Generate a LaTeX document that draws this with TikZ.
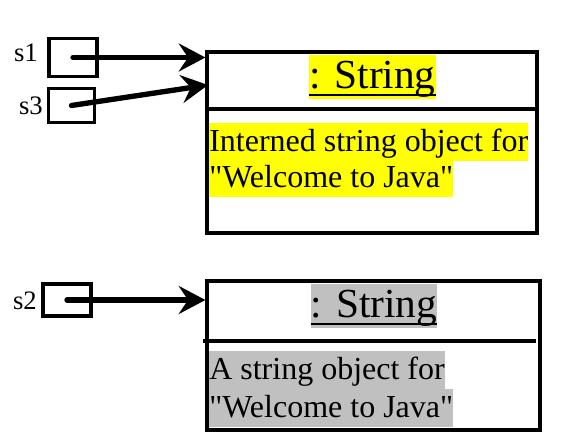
\documentclass[tikz,border=0pt]{standalone}
\usepackage{fontspec}
\setmainfont{Liberation Serif}
\usetikzlibrary{arrows.meta,calc}
\definecolor{hlyellow}{RGB}{255,255,0}
\definecolor{hlgray}{RGB}{192,192,192}
\tikzset{
  ptrbox/.style={draw, line width=2.4pt, inner sep=0pt},
  objbox/.style={draw, line width=2.4pt, inner sep=0pt},
  objline/.style={line width=2.4pt},
  ref/.style={line width=4pt, line cap=round, -{Stealth[length=20pt,width=21pt,inset=7pt]}},
  varlabel/.style={font=\fontsize{20}{22}\selectfont, inner sep=0pt, anchor=base east},
  ttl/.style={font=\fontsize{31}{36}\selectfont, inner sep=0pt, text height=25.5pt, text depth=7.5pt, anchor=base},
  bodyline/.style={font=\fontsize{24}{28}\selectfont, inner sep=0pt, text height=21.5pt, text depth=6.5pt, anchor=base west},
}
\begin{document}
\begin{tikzpicture}[x=0.75pt,y=0.75pt,yscale=-1,xscale=1]
\useasboundingbox (0,0) rectangle (582,448);

% reference variables
\node[ptrbox, minimum width=36pt, minimum height=29pt] (ptrA) at (73,57.5) {};
\node[ptrbox, minimum width=34pt, minimum height=25pt] (ptrB) at (71.5,105.5) {};
\node[ptrbox, minimum width=36pt, minimum height=24pt] (ptrC) at (67,300) {};
\node[varlabel] (lblA) at (38,62) {s1};
\node[varlabel] (lblB) at (43,115) {s3};
\node[varlabel] (lblC) at (37,310) {s2};

% interned string object
\node[objbox, minimum width=247.5pt, minimum height=135.75pt] (objA) at (372,142.5) {};
\draw[objline] (objA.west |- 0,109) -- (538,109);
\node[ttl, fill=hlyellow] (ttlA) at (372.5,89) {: String};
\draw[line width=1.5pt] ($(ttlA.base west)+(0,6)$) -- ($(ttlA.base east)+(0,6)$);
\node[bodyline, fill=hlyellow] (txtA1) at (209,152) {Interned string object for};
\node[bodyline, fill=hlyellow] (txtA2) at (209,188) {\textquotedbl Welcome to Java\textquotedbl};

% separate string object
\node[objbox, minimum width=249.75pt, minimum height=111.75pt] (objB) at (373.5,355.5) {};
\draw[objline] (203,341) -- (536,341);
\node[ttl, fill=hlgray] (ttlB) at (374,318) {: String};
\draw[line width=1.5pt] ($(ttlB.base west)+(0,6)$) -- ($(ttlB.base east)+(0,6)$);
\node[bodyline, fill=hlgray] (txtB1) at (209,380) {A string object for};
\node[bodyline, fill=hlgray] (txtB2) at (209,418) {\textquotedbl Welcome to Java\textquotedbl};

% references
\coordinate (tipB) at (208,85);
\draw[ref] (ptrA.center) -- (objA.west |- ptrA.center);
\draw[ref] (ptrB.center) -- (tipB);
\draw[ref] (ptrC.center) -- (objB.west |- ptrC.center);

\end{tikzpicture}
\end{document}
